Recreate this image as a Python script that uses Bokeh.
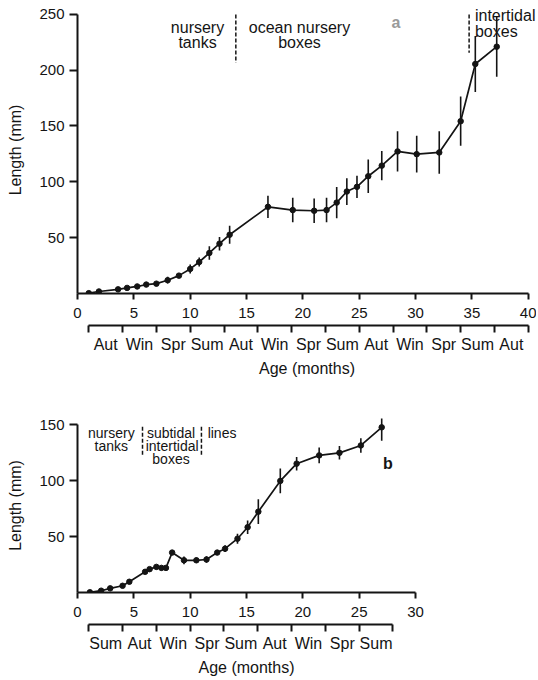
import numpy as np
from bokeh.plotting import figure
from bokeh.models import ColumnDataSource, Range1d, LinearAxis, FixedTicker
from bokeh.layouts import column
from bokeh.embed import file_html
from bokeh.resources import INLINE
from bokeh.core.properties import value

# ---------------- data: panel a ----------------
a_age = [1.0, 1.9, 3.6, 4.4, 5.3, 6.1, 7.0, 8.0, 9.0, 10.0, 10.8, 11.7, 12.6, 13.5,
         16.9, 19.1, 21.0, 22.1, 23.0, 23.9, 24.8, 25.8, 27.0, 28.4, 30.1, 32.1,
         34.0, 35.3, 37.2]
a_len = [0.3, 1.8, 3.7, 5.0, 6.3, 8.0, 8.8, 11.9, 16.0, 22.0, 28.2, 36.3, 44.6, 52.6,
         77.6, 74.7, 74.1, 74.7, 81.4, 91.3, 95.5, 105.0, 114.5, 127.2, 124.8, 126.3,
         154.3, 205.5, 221.0]
a_err = [0, 1, 1, 1, 1, 1, 1.5, 3, 2, 4, 4, 6, 6, 8,
         10, 11, 11, 11, 14, 12, 10, 15, 13, 18, 16.5, 19,
         22, 25, 27]
a_xticks = [0, 5, 10, 15, 20, 25, 30, 35, 40]
a_yticks = [50, 100, 150, 200, 250]
a_season_bounds = [1, 4, 7, 10, 13, 16, 19, 22, 25, 28, 31, 34, 37, 40]
a_seasons = ["Aut", "Win", "Spr", "Sum", "Aut", "Win", "Spr", "Sum",
             "Aut", "Win", "Spr", "Sum", "Aut"]

# ---------------- data: panel b ----------------
b_age = [1.1, 2.1, 2.9, 4.0, 4.6, 6.0, 6.4, 7.0, 7.45, 7.85, 8.4, 9.45, 10.55,
         11.45, 12.4, 13.1, 14.2, 15.1, 16.05, 18.0, 19.45, 21.45, 23.25, 25.15, 27.0]
b_len = [0.2, 1.6, 3.7, 6.0, 9.6, 18.5, 20.9, 22.9, 22.0, 22.0, 35.7, 28.8, 28.8,
         29.5, 35.7, 39.2, 48.1, 58.4, 72.3, 99.8, 115.2, 122.6, 124.9, 131.5, 147.7]
b_err = [0, 1, 1, 1.5, 2, 2, 2, 2, 2, 2, 2, 3.5, 2.5,
         3, 2, 3, 4.5, 6, 11, 11, 6, 7, 6, 6.5, 12]
b_xticks = [0, 5, 10, 15, 20, 25, 30]
b_yticks = [50, 100, 150]
b_season_bounds = [1, 4, 7, 10, 13, 16, 19, 22, 25, 28]
b_seasons = ["Sum", "Aut", "Win", "Spr", "Sum", "Aut", "Win", "Spr", "Sum"]

FONT = "Liberation Sans"
INK = "#141414"
FS_NUM = "15px"
FS_TXT = "16px"


def style_axis(ax):
    ax.axis_line_width = 2
    ax.axis_line_color = INK
    ax.major_tick_line_width = 2
    ax.major_tick_line_color = INK
    ax.minor_tick_line_width = 2
    ax.minor_tick_line_color = INK
    ax.major_label_text_font = FONT
    ax.major_label_text_font_size = FS_NUM
    ax.major_label_text_color = INK
    ax.axis_label_text_font = FONT
    ax.axis_label_text_font_size = FS_TXT
    ax.axis_label_text_font_style = "normal"
    ax.axis_label_text_color = INK


def make_panel(age, length, err, xticks, yticks, sb, seasons, xr, yr, fw, fh,
               top, right):
    p = figure(frame_width=fw, frame_height=fh,
               x_range=Range1d(0, xr), y_range=Range1d(0, yr),
               output_backend="svg", toolbar_location=None,
               x_axis_type=None, y_axis_type=None,
               min_border_left=77, min_border_right=right,
               min_border_top=top, min_border_bottom=0)
    p.outline_line_color = None
    p.xgrid.visible = False
    p.ygrid.visible = False
    p.background_fill_color = "white"
    p.border_fill_color = "white"

    # main x axis
    xa = LinearAxis(ticker=FixedTicker(ticks=xticks, minor_ticks=[]),
                    bounds=(xticks[0], xticks[-1]))
    style_axis(xa)
    xa.major_tick_out = 6
    xa.major_tick_in = 0
    xa.major_label_standoff = 8
    xa.axis_label = " "
    xa.axis_label_text_font_size = "1px"
    xa.axis_label_standoff = 1
    p.add_layout(xa, "below")

    # season axis
    mids = [(sb[i] + sb[i + 1]) / 2 for i in range(len(sb) - 1)]
    sa = LinearAxis(ticker=FixedTicker(ticks=mids, minor_ticks=sb),
                    bounds=(sb[0], sb[-1]))
    style_axis(sa)
    sa.major_label_text_font_size = FS_TXT
    sa.major_tick_out = 0
    sa.major_tick_in = 0
    sa.minor_tick_out = 7
    sa.minor_tick_in = 0
    sa.major_label_standoff = 3
    sa.major_label_overrides = {m: s for m, s in zip(mids, seasons)}
    sa.axis_label = "Age (months)"
    sa.axis_label_standoff = 4
    p.add_layout(sa, "below")

    # y axis
    ya = LinearAxis(ticker=FixedTicker(ticks=yticks, minor_ticks=[]),
                    bounds=(0, yticks[-1]))
    style_axis(ya)
    ya.major_tick_out = 8
    ya.major_tick_in = 0
    ya.major_label_standoff = 5
    ya.axis_label = "Length (mm)"
    ya.axis_label_standoff = 12
    p.add_layout(ya, "left")

    lo = [v - e for v, e in zip(length, err)]
    hi = [v + e for v, e in zip(length, err)]
    src = ColumnDataSource(dict(x=age, y=length, lo=lo, hi=hi))
    p.segment(x0="x", y0="lo", x1="x", y1="hi", source=src,
              line_color=INK, line_width=1.6)
    p.line(x="x", y="y", source=src, line_color=INK, line_width=1.7)
    p.scatter(x="x", y="y", source=src, marker="circle", size=5.5,
              fill_color=INK, line_color=INK)
    return p


def put_text(p, xs, ys, texts, align="center", color=INK, style="normal",
             size=FS_TXT):
    p.text(x=xs, y=ys, text=texts, text_font=value(FONT), text_font_size=size,
           text_align=align, text_baseline="middle", text_color=color,
           text_font_style=style)


# ---------------- panel a ----------------
pa = make_panel(a_age, a_len, a_err, a_xticks, a_yticks, a_season_bounds,
                a_seasons, 40.73, 257, 459, 287, 6, 0)
put_text(pa, [10.65, 10.65, 19.7, 19.7], [237.9, 224.5, 237.9, 224.5],
         ["nursery", "tanks", "ocean nursery", "boxes"])
put_text(pa, [35.27, 35.27], [249.0, 234.5], ["intertidal", "boxes"], align="left")
put_text(pa, [28.25], [242.4], ["a"], color="#9a9a9a", style="bold")
pa.segment(x0=[14.05, 34.75], y0=[249.9, 249.9], x1=[14.05, 34.75], y1=[206.6, 215.6],
           line_color=INK, line_width=1.5, line_dash="4 2")

# ---------------- panel b ----------------
pb = make_panel(b_age, b_len, b_err, b_xticks, b_yticks, b_season_bounds,
                b_seasons, 30, 155.6, 338, 174, 39, 20)
put_text(pb, [3.0, 3.0, 8.3, 8.4, 8.3], [142.4, 131.3, 142.4, 131.3, 119.6],
         ["nursery", "tanks", "subtidal", "intertidal", "boxes"], size="14px")
put_text(pb, [11.55], [142.4], ["lines"], align="left", size="14px")
put_text(pb, [27.56], [115.5], ["b"], style="bold")
pb.segment(x0=[5.77, 11.0], y0=[148.3, 148.3], x1=[5.77, 11.0], y1=[123.0, 123.0],
           line_color=INK, line_width=1.5, line_dash="4 2")

layout = column(pa, pb)
open("out.html", "w").write(file_html(layout, INLINE))
